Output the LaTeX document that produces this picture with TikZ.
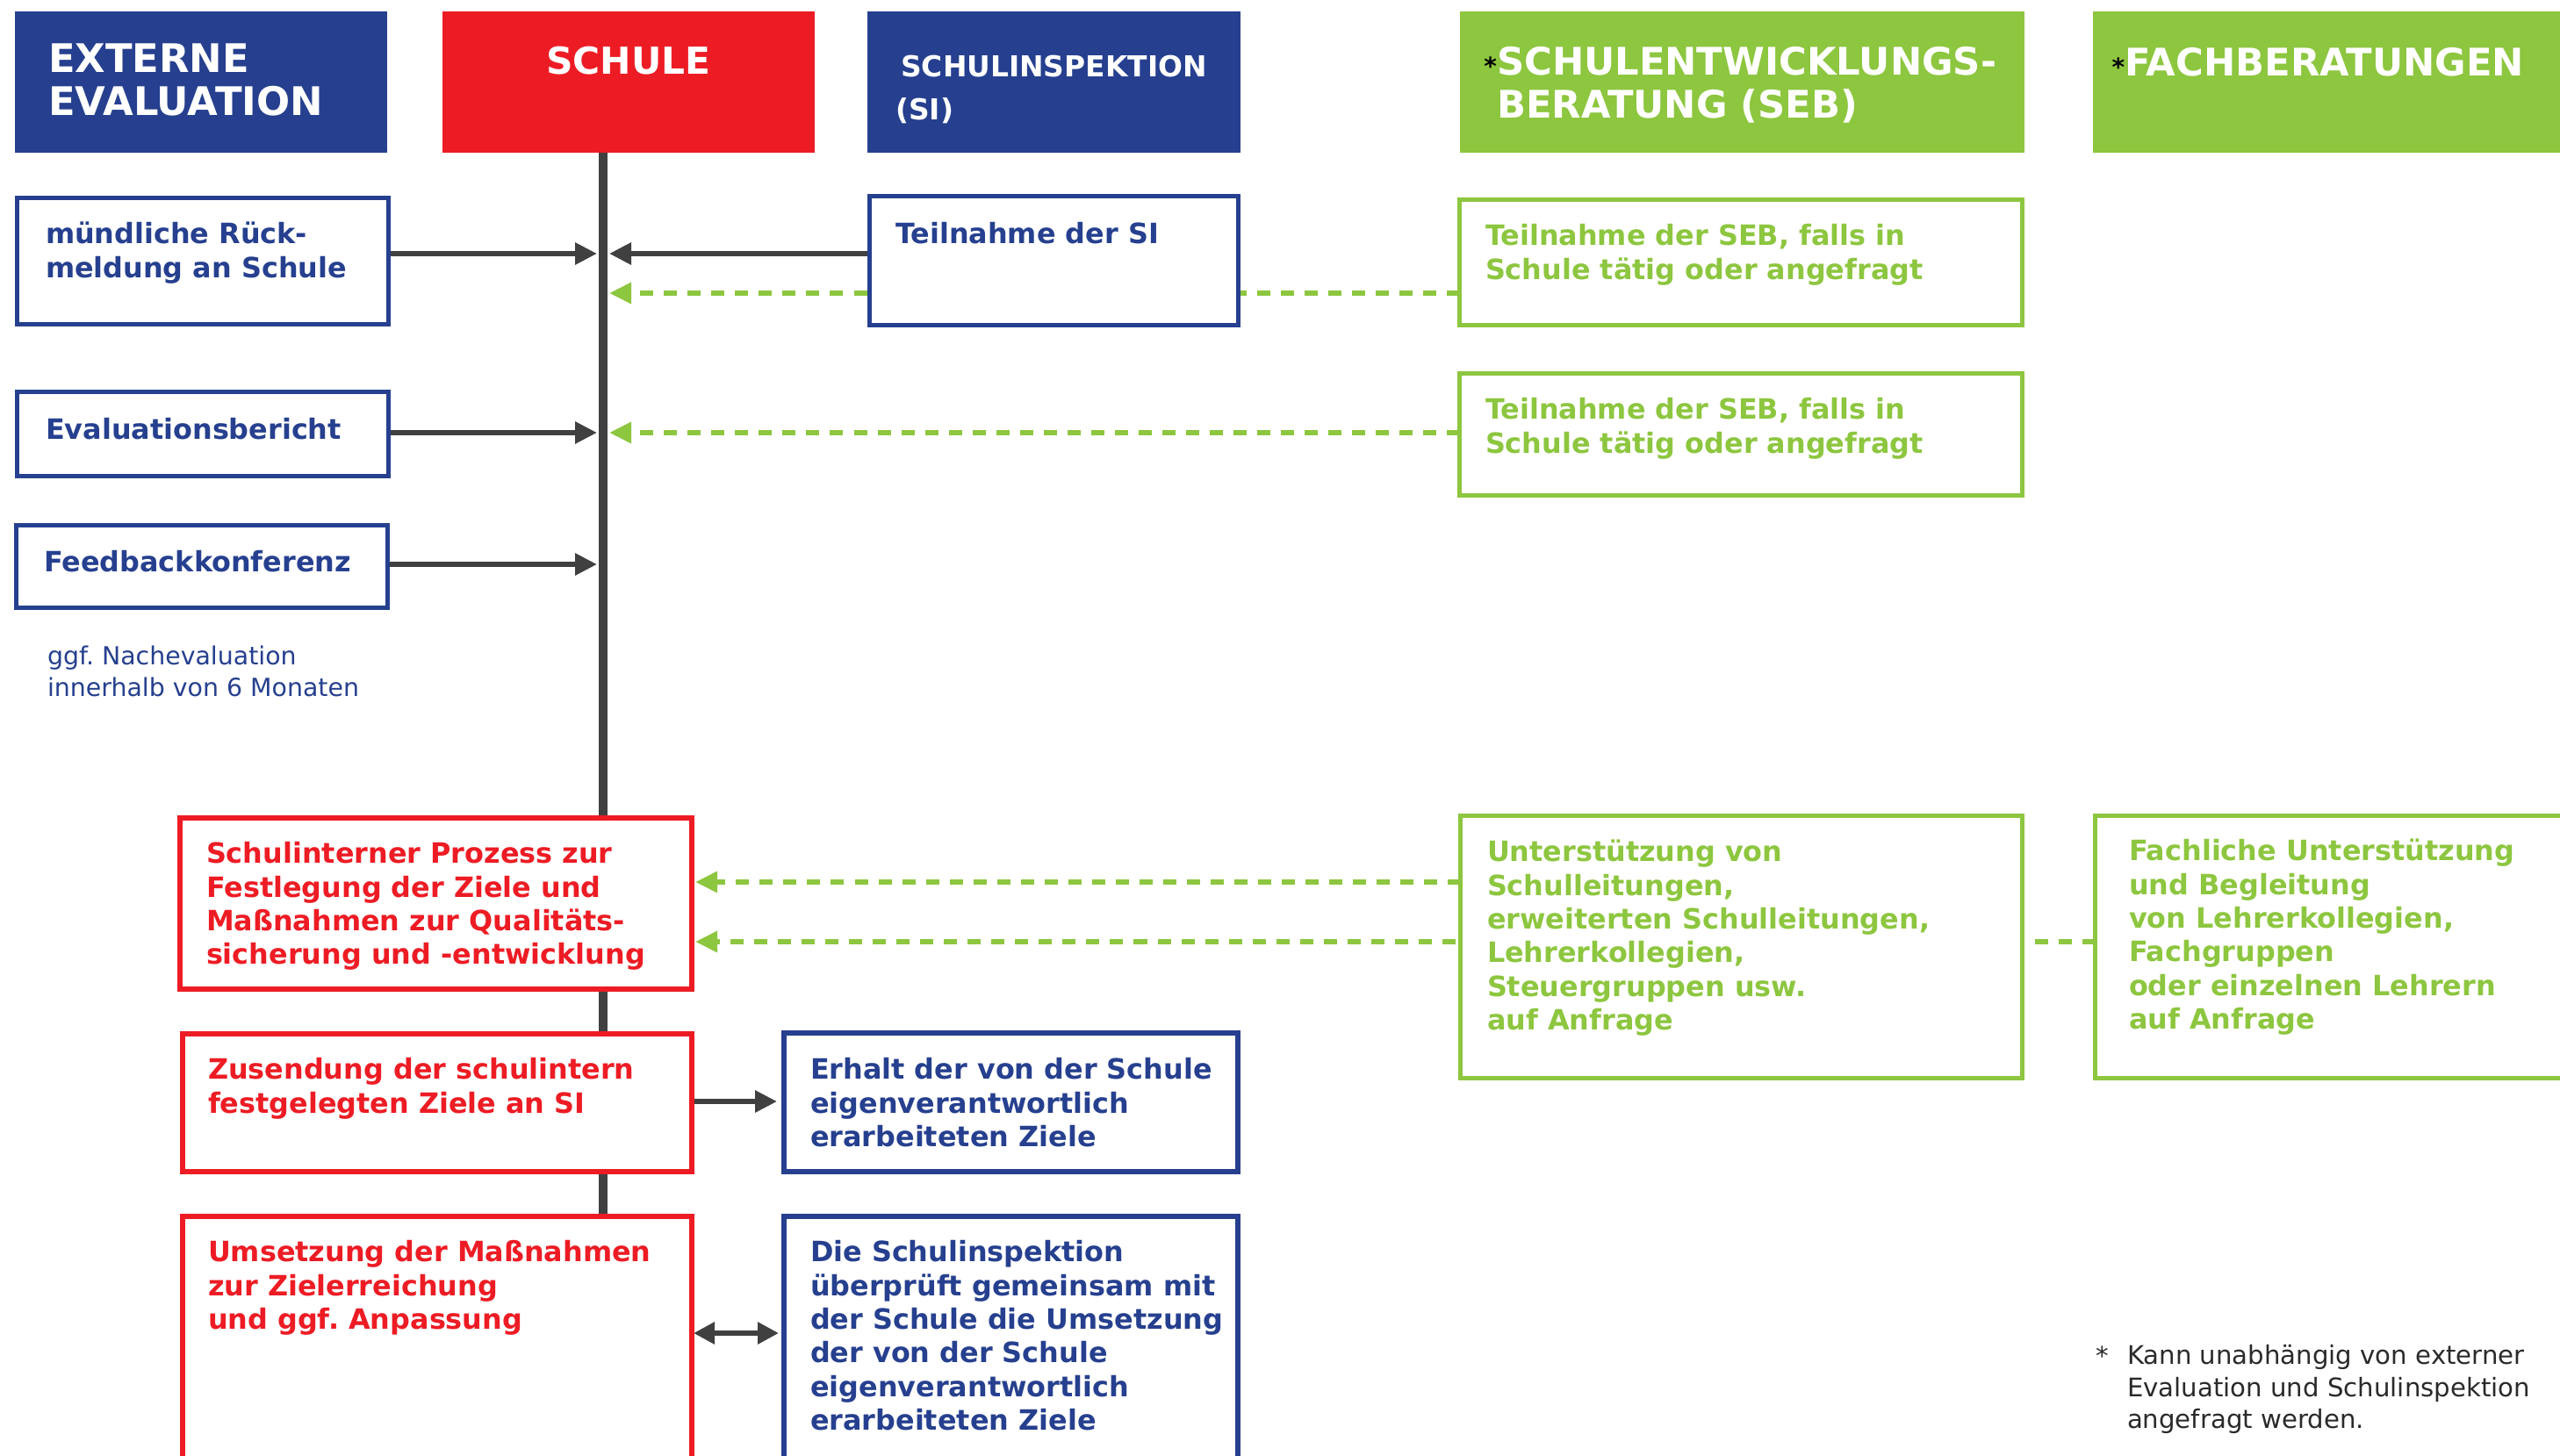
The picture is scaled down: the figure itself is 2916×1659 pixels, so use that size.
\documentclass[tikz,border=0pt]{standalone}
\usepackage{fontspec}
\setmainfont{DejaVu Sans}
\usetikzlibrary{arrows.meta,backgrounds}
\definecolor{blueC}{HTML}{26408F}
\definecolor{redC}{HTML}{ED1C24}
\definecolor{greenC}{HTML}{8DC63F}
\definecolor{grayC}{HTML}{404040}
\definecolor{footC}{HTML}{2A2A2A}
\begin{document}
\begin{tikzpicture}[x=1bp,y=-1bp,
  hdr/.style={rectangle, fill=#1, draw=none, inner sep=0pt, outer sep=0pt},
  outbox/.style={rectangle, draw=#1, fill=white, line width=5bp, inner sep=0pt, outer sep=0pt},
  redbox/.style={outbox=redC, line width=6bp},
  bodytxt/.style={anchor=north west, inner sep=0pt, outer sep=0pt, align=left, text=#1,
    font=\fontsize{32}{38.5}\selectfont\bfseries},
  bigtxt/.style={anchor=north west, inner sep=0pt, outer sep=0pt, align=left, text=white,
    font=\fontsize{43.5}{49}\selectfont\bfseries},
  smalltxt/.style={anchor=north west, inner sep=0pt, outer sep=0pt, align=left, text=#1,
    font=\fontsize{28.5}{36}\selectfont},
  conn/.style={draw=grayC, line width=6bp, -{Triangle[length=25bp,width=24bp]}},
  conntwo/.style={draw=grayC, line width=6bp, {Triangle[length=24bp,width=24bp]}-{Triangle[length=24bp,width=24bp]}},
  gconn/.style={draw=greenC, line width=6bp, dash pattern=on 15bp off 12bp, -{Triangle[length=25bp,width=23bp]}}
]
\clip (0,0) rectangle (2916,1659);

% header boxes
\node[hdr=blueC, minimum width=424bp, minimum height=161bp] (ext) at (229,93.5) {};
\node[hdr=redC, minimum width=424bp, minimum height=161bp] (schule) at (716,93.5) {};
\node[hdr=blueC, minimum width=425bp, minimum height=161bp] (si) at (1200.5,93.5) {};
\node[hdr=greenC, minimum width=643bp, minimum height=161bp] (seb) at (1984.5,93.5) {};
\node[hdr=greenC, minimum width=546bp, minimum height=161bp] (fach) at (2657,93.5) {};

\node[bigtxt, font=\fontsize{45}{49}\selectfont\bfseries] (extT) at (55,48.7) {\strut EXTERNE\\EVALUATION};
\node[anchor=base, inner sep=0pt, text=white, font=\fontsize{42.5}{49}\selectfont\bfseries] (schuleT) at (716,85) {SCHULE};
\node[anchor=north west, inner sep=0pt, align=left, text=white, font=\fontsize{33}{50}\selectfont\bfseries] (siT) at (1020,52) {\strut\hspace{6bp}SCHULINSPEKTION\\(SI)};
\node[bigtxt] (sebT) at (1705,51.4) {\strut\llap{\fontsize{28}{28}\selectfont\color{black}*}SCHULENTWICKLUNGS-\\BERATUNG (SEB)};
\node[anchor=base west, inner sep=0pt, text=white, font=\fontsize{43.5}{49}\selectfont\bfseries] (fachT) at (2420,87) {\llap{\fontsize{28}{28}\selectfont\color{black}*}FACHBERATUNGEN};

% content boxes
\node[outbox=blueC, minimum width=423bp, minimum height=144bp] (muend) at (231,297.5) {};
\node[outbox=blueC, minimum width=420bp, minimum height=147bp] (si1) at (1200.5,297) {};
\node[outbox=greenC, minimum width=641bp, minimum height=143bp] (seb1) at (1983,299) {};
\node[outbox=blueC, minimum width=423bp, minimum height=96bp] (eval) at (231,494.5) {};
\node[outbox=greenC, minimum width=641bp, minimum height=139bp] (seb2) at (1983,495) {};
\node[outbox=blueC, minimum width=423bp, minimum height=94bp] (feed) at (230,645.5) {};

\node[redbox, minimum width=583bp, minimum height=195bp] (sint) at (496.5,1029.5) {};
\node[redbox, minimum width=580bp, minimum height=157bp] (zus) at (498,1256.5) {};
\node[redbox, minimum width=580bp, minimum height=314bp] (ums) at (498,1543) {};
\node[outbox=blueC, line width=6bp, minimum width=517bp, minimum height=158bp] (erh) at (1151.5,1256) {};
\node[outbox=blueC, line width=6bp, minimum width=517bp, minimum height=314bp] (die) at (1151.5,1543) {};
\node[outbox=greenC, minimum width=640bp, minimum height=299bp] (unt) at (1983.5,1079) {};
\node[outbox=greenC, minimum width=563.5bp, minimum height=299bp] (fb) at (2668.25,1079) {};

% texts
\node[bodytxt=blueC] (muendT) at (52,251) {\strut mündliche Rück-\\meldung an Schule};
\node[bodytxt=blueC] (si1T) at (1020,251) {\strut Teilnahme der SI};
\node[bodytxt=greenC] (seb1T) at (1692,253) {\strut Teilnahme der SEB, falls in\\Schule tätig oder angefragt};
\node[bodytxt=blueC] (evalT) at (52,474) {\strut Evaluationsbericht};
\node[bodytxt=greenC] (seb2T) at (1692,451) {\strut Teilnahme der SEB, falls in\\Schule tätig oder angefragt};
\node[bodytxt=blueC] (feedT) at (50,625) {\strut Feedbackkonferenz};
\node[smalltxt=blueC] (ggfT) at (54,732.8) {\strut ggf.\ Nachevaluation\\innerhalb von 6 Monaten};
\node[bodytxt=redC] (sintT) at (235,957) {\strut Schulinterner Prozess zur\\Festlegung der Ziele und\\Maßnahmen zur Qualitäts-\\sicherung und -entwicklung};
\node[bodytxt=redC] (zusT) at (237,1203) {\strut Zusendung der schulintern\\festgelegten Ziele an SI};
\node[bodytxt=blueC] (erhT) at (923,1203) {\strut Erhalt der von der Schule\\eigenverantwortlich\\erarbeiteten Ziele};
\node[bodytxt=redC] (umsT) at (237,1411) {\strut Umsetzung der Maßnahmen\\zur Zielerreichung\\und ggf.\ Anpassung};
\node[bodytxt=blueC] (dieT) at (923,1411) {\strut Die Schulinspektion\\überprüft gemeinsam mit\\der Schule die Umsetzung\\der von der Schule\\eigenverantwortlich\\erarbeiteten Ziele};
\node[bodytxt=greenC] (untT) at (1694,955) {\strut Unterstützung von\\Schulleitungen,\\erweiterten Schulleitungen,\\Lehrerkollegien,\\Steuergruppen usw.\\auf Anfrage};
\node[bodytxt=greenC] (fbT) at (2425,954) {\strut Fachliche Unterstützung\\und Begleitung\\von Lehrerkollegien,\\Fachgruppen\\oder einzelnen Lehrern\\auf Anfrage};
\node[anchor=base west, inner sep=0pt, text=footC, font=\fontsize{29.3}{36.5}\selectfont] (starT) at (2387,1555) {*};
\node[smalltxt=footC, font=\fontsize{29.3}{36.5}\selectfont] (footT) at (2423,1529.5) {\strut Kann unabhängig von externer\\Evaluation und Schulinspektion\\angefragt werden.};

% connectors
\coordinate (spineTop) at (687,174);
\coordinate (spineBot) at (687,1386);
\coordinate (s1) at (687,289);
\coordinate (s2) at (687,334);
\coordinate (s3) at (687,493);
\coordinate (s4) at (687,643);
\coordinate (yA) at (0,1005);
\coordinate (yB) at (0,1073);
\coordinate (yC) at (0,1255);
\coordinate (yD) at (0,1519);
\begin{pgfonlayer}{background}
\fill[white] (0,0) rectangle (2916,1659);
\draw[draw=grayC, line width=10bp] (spineTop) -- (spineBot);
\draw[conn, shorten >=7bp] (muend.east |- s1) -- (s1);
\draw[conn, shorten >=7bp] (si1.west |- s1) -- (s1);
\draw[gconn, shorten >=7bp] (seb1.west |- s2) -- (s2);
\draw[conn, shorten >=7bp] (eval.east |- s3) -- (s3);
\draw[gconn, shorten >=7bp] (seb2.west |- s3) -- (s3);
\draw[conn, shorten >=7bp] (feed.east |- s4) -- (s4);
\draw[gconn, shorten >=4bp] (unt.west |- yA) -- (sint.east |- yA);
\draw[gconn, shorten >=4bp] (fb.west |- yB) -- (sint.east |- yB);
\draw[conn, shorten >=8bp] (zus.east |- yC) -- (erh.west |- yC);
\draw[conntwo, shorten <=2bp, shorten >=6bp] (ums.east |- yD) -- (die.west |- yD);
\end{pgfonlayer}
\end{tikzpicture}
\end{document}
